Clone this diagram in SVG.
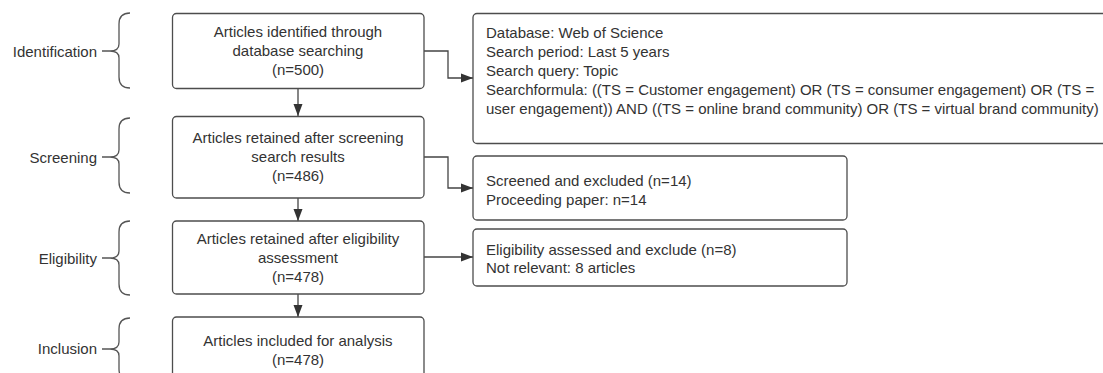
<svg xmlns="http://www.w3.org/2000/svg" width="1103" height="373" viewBox="0 0 1103 373">
  <defs>
    <style>
      .box { fill: #ffffff; stroke: #4d4d4d; stroke-width: 1.3; }
      .t { font-family: "Liberation Sans", Arial, sans-serif; font-size: 15px; fill: #333333; }
      .c { text-anchor: middle; }
      .e { text-anchor: end; }
      .line { fill: none; stroke: #444444; stroke-width: 1.3; }
      .brace { fill: none; stroke: #555555; stroke-width: 1.3; }
    </style>
    <marker id="arr" markerUnits="userSpaceOnUse" markerWidth="13" markerHeight="10" refX="12" refY="5" orient="auto">
      <path d="M0,0.5 L12,5 L0,9.5 z" fill="#333333"/>
    </marker>
  </defs>

  <g id="phases">
    <g id="phase-identification">
      <text class="t e" x="97" y="57">Identification</text>
      <path class="brace" d="M102,51 H110 M130,13 Q119,13 119,24 V44 Q119,51 110,51 Q119,51 119,58 V77 Q119,88 130,88"/>
    </g>
    <g id="phase-screening">
      <text class="t e" x="97" y="163">Screening</text>
      <path class="brace" d="M102,157 H110 M130,118 Q119,118 119,129 V150 Q119,157 110,157 Q119,157 119,164 V182 Q119,193 130,193"/>
    </g>
    <g id="phase-eligibility">
      <text class="t e" x="97" y="264">Eligibility</text>
      <path class="brace" d="M102,258 H110 M130,221 Q119,221 119,232 V251 Q119,258 110,258 Q119,258 119,265 V284 Q119,295 130,295"/>
    </g>
    <g id="phase-inclusion">
      <text class="t e" x="97" y="354">Inclusion</text>
      <path class="brace" d="M102,349 H110 M130,318 Q119,318 119,329 V342 Q119,349 110,349 Q119,349 119,356 V369 Q119,380 130,380"/>
    </g>
  </g>

  <g id="connectors">
    <line class="line" x1="298" y1="88" x2="298" y2="116" marker-end="url(#arr)"/>
    <line class="line" x1="298" y1="198" x2="298" y2="221" marker-end="url(#arr)"/>
    <line class="line" x1="298" y1="294" x2="298" y2="317" marker-end="url(#arr)"/>
    <path class="line" d="M424,51 H448 V78 H473" marker-end="url(#arr)"/>
    <path class="line" d="M424,157 H448 V188 H473" marker-end="url(#arr)"/>
    <path class="line" d="M424,257 H473" marker-end="url(#arr)"/>
  </g>

  <g id="n-identified">
    <rect class="box" x="172.5" y="13.5" width="251.5" height="75" rx="4"/>
    <text class="t c" x="298" y="37">Articles identified through</text>
    <text class="t c" x="298" y="56">database searching</text>
    <text class="t c" x="298" y="75">(n=500)</text>
  </g>

  <g id="n-screened">
    <rect class="box" x="172.5" y="116.5" width="251.5" height="81.5" rx="4"/>
    <text class="t c" x="298" y="143">Articles retained after screening</text>
    <text class="t c" x="298" y="162">search results</text>
    <text class="t c" x="298" y="181">(n=486)</text>
  </g>

  <g id="n-eligible">
    <rect class="box" x="172.5" y="221" width="251.5" height="73" rx="4"/>
    <text class="t c" x="298" y="244">Articles retained after eligibility</text>
    <text class="t c" x="298" y="263">assessment</text>
    <text class="t c" x="298" y="282">(n=478)</text>
  </g>

  <g id="n-included">
    <rect class="box" x="172.5" y="317" width="251.5" height="70" rx="4"/>
    <text class="t c" x="298" y="346">Articles included for analysis</text>
    <text class="t c" x="298" y="365">(n=478)</text>
  </g>

  <g id="n-search-info">
    <rect class="box" x="473" y="13.5" width="640" height="130" rx="4"/>
    <text class="t" x="486" y="38">Database: Web of Science</text>
    <text class="t" x="486" y="57">Search period: Last 5 years</text>
    <text class="t" x="486" y="76">Search query: Topic</text>
    <text class="t" x="486" y="95">Searchformula: ((TS = Customer engagement) OR (TS = consumer engagement) OR (TS =</text>
    <text class="t" x="486" y="114">user engagement)) AND ((TS = online brand community) OR (TS = virtual brand community)</text>
  </g>

  <g id="n-excluded-screening">
    <rect class="box" x="473" y="156" width="374" height="64" rx="4"/>
    <text class="t" x="486" y="186">Screened and excluded (n=14)</text>
    <text class="t" x="486" y="205">Proceeding paper: n=14</text>
  </g>

  <g id="n-excluded-eligibility">
    <rect class="box" x="473" y="229" width="374" height="57" rx="4"/>
    <text class="t" x="486" y="255">Eligibility assessed and exclude (n=8)</text>
    <text class="t" x="486" y="273">Not relevant: 8 articles</text>
  </g>
</svg>
